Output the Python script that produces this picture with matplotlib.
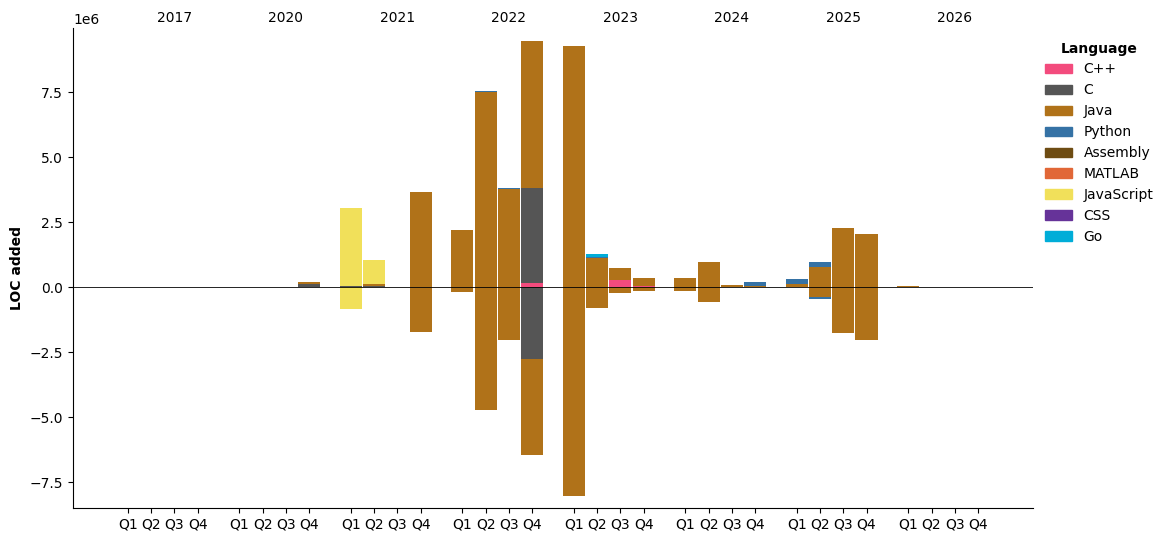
import numpy as np
import matplotlib
matplotlib.use('Agg')
import matplotlib.pyplot as plt
from matplotlib.patches import Patch

years = ['2017', '2020', '2021', '2022', '2023', '2024', '2025', '2026']
quarters = ['Q1', 'Q2', 'Q3', 'Q4']
languages = ['C++', 'C', 'Java', 'Python', 'Assembly', 'MATLAB', 'JavaScript', 'CSS', 'Go']
colors = ['#f34b7d', '#555555', '#b07219', '#3572a5', '#6e4c13', '#e16737', '#f1e05a', '#663399', '#00add8']

# LOC added / removed per quarter, in millions (8 years x 4 quarters)
added = {
    'C++':        [0, 0, 0, 0,  0, 0, 0, 0,  0, 0, 0, 0,  0, 0, 0, 0.15,  0, 0, 0.27, 0.04,  0, 0, 0, 0,  0, 0, 0, 0,  0, 0, 0, 0],
    'C':          [0, 0, 0, 0,  0, 0, 0, 0.11,  0.05, 0.05, 0, 0,  0, 0, 0, 3.66,  0, 0, 0, 0,  0, 0, 0, 0,  0, 0, 0, 0,  0, 0, 0, 0],
    'Java':       [0, 0, 0, 0,  0, 0, 0, 0.08,  0, 0.07, 0, 3.65,  2.19, 7.49, 3.76, 5.65,  9.27, 1.13, 0.46, 0.31,
                   0.35, 0.98, 0.08, 0.05,  0.13, 0.77, 2.27, 2.04,  0.05, 0, 0, 0],
    'Python':     [0, 0, 0, 0,  0, 0, 0, 0,  0, 0, 0, 0,  0, 0.05, 0.05, 0,  0, 0.03, 0, 0,  0, 0, 0, 0.15,  0.18, 0.19, 0, 0,  0, 0, 0, 0],
    'JavaScript': [0, 0, 0, 0,  0, 0, 0, 0,  2.99, 0.92, 0, 0,  0, 0, 0, 0,  0, 0, 0, 0,  0, 0, 0, 0,  0, 0, 0, 0,  0, 0, 0, 0],
    'Go':         [0, 0, 0, 0,  0, 0, 0, 0,  0, 0, 0, 0,  0, 0, 0, 0,  0, 0.10, 0, 0,  0, 0, 0, 0,  0, 0, 0, 0,  0, 0, 0, 0],
}
removed = {
    'C':          [0, 0, 0, 0,  0, 0, 0, 0,  0, 0, 0, 0,  0, 0, 0, -2.77,  0, 0, 0, 0,  0, 0, 0, 0,  0, 0, 0, 0,  0, 0, 0, 0],
    'Java':       [0, 0, 0, 0,  0, 0, 0, 0,  0, 0, 0, -1.73,  -0.19, -4.73, -2.04, -3.69,  -8.04, -0.81, -0.23, -0.15,
                   -0.16, -0.57, 0, 0,  0, -0.38, -1.77, -2.04,  0, 0, 0, 0],
    'Python':     [0, 0, 0, 0,  0, 0, 0, 0,  0, 0, 0, 0,  0, 0, 0, 0,  0, 0, 0, 0,  0, 0, 0, 0,  0, -0.08, 0, 0,  0, 0, 0, 0],
    'JavaScript': [0, 0, 0, 0,  0, 0, 0, 0,  -0.83, 0, 0, 0,  0, 0, 0, 0,  0, 0, 0, 0,  0, 0, 0, 0,  0, 0, 0, 0,  0, 0, 0, 0],
}

group_step = 4.8
x = np.array([g * group_step + q for g in range(len(years)) for q in range(4)])
width = 0.95

fig = plt.figure(figsize=(11.69, 5.42), dpi=100)
ax = fig.add_axes([0.0624, 0.0627, 0.8213, 0.8855])

pos_bottom = np.zeros(len(x))
neg_bottom = np.zeros(len(x))
for lang, col in zip(languages, colors):
    if lang in added:
        v = np.array(added[lang]) * 1e6
        ax.bar(x, v, width, bottom=pos_bottom, color=col, linewidth=0)
        pos_bottom += v
    if lang in removed:
        v = np.array(removed[lang]) * 1e6
        ax.bar(x, v, width, bottom=neg_bottom, color=col, linewidth=0)
        neg_bottom += v

ax.axhline(0, color='black', lw=0.6)

ax.set_xticks(x)
ax.set_xticklabels(quarters * len(years))
ax.set_xlim(x[0] - 2.37, x[-1] + 2.37)
ax.set_ylim(-8.5e6, 9.96e6)
ax.set_ylabel('LOC added', fontweight='bold')
ax.spines['top'].set_visible(False)
ax.spines['right'].set_visible(False)

for g, yr in enumerate(years):
    ax.text(g * group_step + 2, 1.006, yr, transform=ax.get_xaxis_transform(),
            ha='center', va='bottom', fontsize=10)

handles = [Patch(color=c, label=l) for l, c in zip(languages, colors)]
leg = ax.legend(handles=handles, title='Language', loc='upper left',
                bbox_to_anchor=(0.999, 0.998), frameon=False)
leg.get_title().set_fontweight('bold')

fig.savefig('out.png', dpi=100)
